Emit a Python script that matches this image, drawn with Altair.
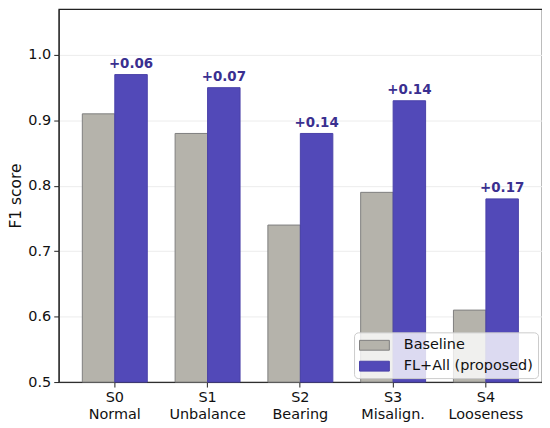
import altair as alt
import pandas as pd

scenarios = ["S0\nNormal", "S1\nUnbalance", "S2\nBearing", "S3\nMisalign.", "S4\nLooseness"]
methods = ["Baseline", "FL+All (proposed)"]
baseline = [0.91, 0.88, 0.74, 0.79, 0.61]
proposed = [0.97, 0.95, 0.88, 0.93, 0.78]
gains = ["+0.06", "+0.07", "+0.14", "+0.14", "+0.17"]
y_ticks = [0.5, 0.6, 0.7, 0.8, 0.9, 1.0]

rows = []
for s, b, p in zip(scenarios, baseline, proposed):
    rows.append({"scenario": s, "method": methods[0], "value": b})
    rows.append({"scenario": s, "method": methods[1], "value": p})
df = pd.DataFrame(rows)
ann = pd.DataFrame({"scenario": scenarios, "method": methods[1], "value": proposed, "label": gains})

FONT = "DejaVu Sans"

x_enc = alt.X("scenario:N", sort=scenarios,
              scale=alt.Scale(paddingInner=0.3, paddingOuter=0.2545),
              axis=alt.Axis(title=None, labelAngle=0, labelExpr="split(datum.label, '\\n')",
                            labelFontSize=14.5, labelFont=FONT, labelColor="#111111",
                            labelLineHeight=16.5, labelPadding=4, tickSize=5,
                            tickColor="#222222", domainColor="#222222"))
xo_enc = alt.XOffset("method:N", sort=methods, scale=alt.Scale(paddingInner=0, paddingOuter=0))
y_enc = alt.Y("value:Q", scale=alt.Scale(domain=[0.5, 1.07], nice=False, zero=False),
              axis=alt.Axis(values=y_ticks, format=".1f", title="F1 score",
                            titleFontSize=15.5, titleFont=FONT, titleFontWeight="normal",
                            titleColor="#111111", titleX=-43, titleBaseline="middle",
                            labelFontSize=14.5, labelFont=FONT, labelColor="#111111",
                            labelPadding=3,
                            tickSize=5, tickColor="#222222", domainColor="#222222",
                            grid=True, gridColor="#ececec", gridWidth=1))

bars = alt.Chart(df).mark_bar(strokeWidth=1).encode(
    x=x_enc, xOffset=xo_enc, y=y_enc, y2=alt.datum(0.5),
    color=alt.Color("method:N", sort=methods,
                    scale=alt.Scale(domain=methods, range=["#b5b3ab", "#5249b8"]),
                    legend=alt.Legend(title=None, orient="bottom-right", offset=4,
                                      symbolType="M-1,-0.66H3V0.66H-1Z", symbolSize=225,
                                      symbolStrokeWidth=1, labelFontSize=14.5, labelFont=FONT,
                                      labelColor="#111111", rowPadding=6, labelOffset=29,
                                      padding=5, fillColor="rgba(255,255,255,0.8)",
                                      strokeColor="#cccccc", cornerRadius=4)),
    stroke=alt.Stroke("method:N", sort=methods,
                      scale=alt.Scale(domain=methods, range=["#7f7f7f", "#4a41a8"]),
                      legend=None),
)

labels = alt.Chart(ann).mark_text(fontSize=13.5, fontWeight="bold", font=FONT,
                                  color="#3a2f90", baseline="alphabetic", dy=-7).encode(
    x=alt.X("scenario:N", sort=scenarios), xOffset=alt.XOffset("method:N", sort=methods),
    y=alt.Y("value:Q"), text="label:N")

chart = alt.layer(bars, labels).properties(
    width=486, height=375,
    autosize=alt.AutoSizeParams(type="none"),
    padding={"left": 51, "top": 0, "right": 0, "bottom": 42},
).configure_view(stroke="#222222", strokeWidth=1.2)

chart.save("out.html", embed_options={"renderer": "svg", "actions": False})
